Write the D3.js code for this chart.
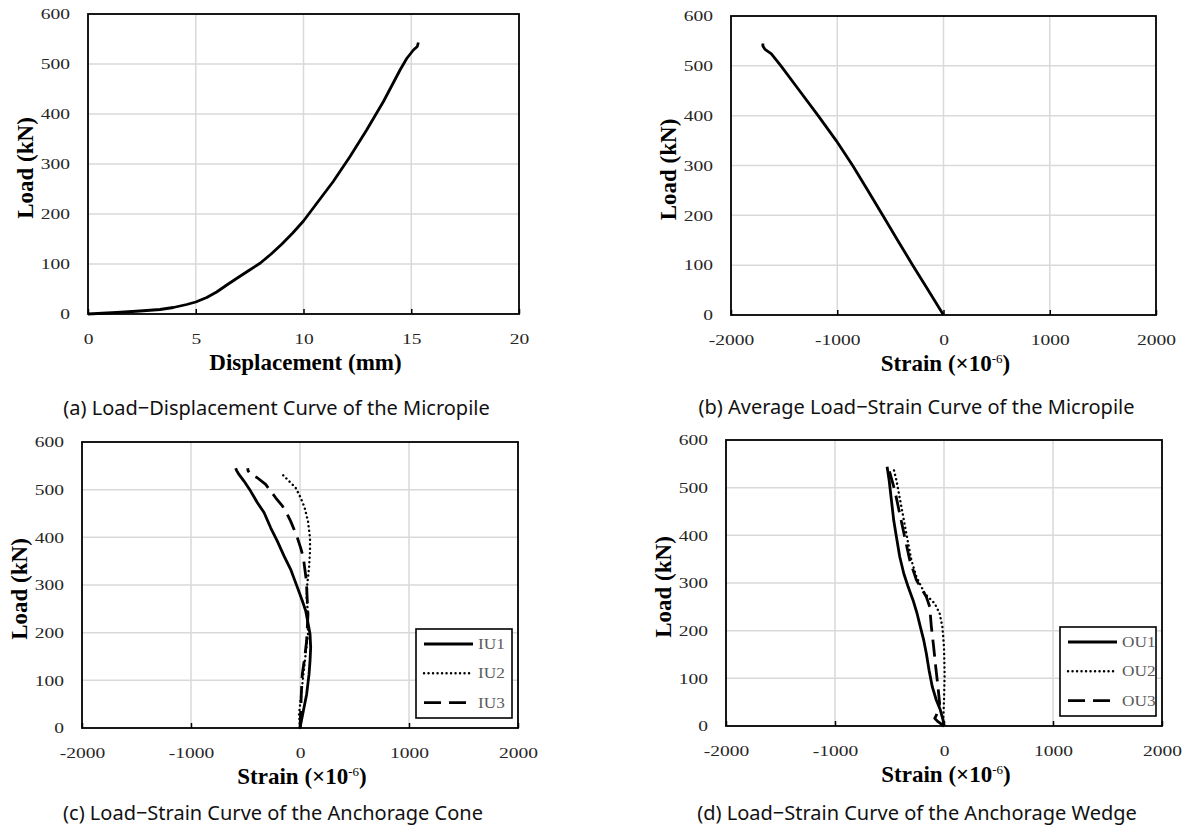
<!DOCTYPE html>
<html>
<head>
<meta charset="utf-8">
<script src="https://cdn.jsdelivr.net/npm/d3@7"></script>
<style>
  body { margin: 0; background: #fff; }
  svg { display: block; }
</style>
</head>
<body>
<svg id="chart" width="1189" height="828"></svg>
<script>
// tick values
const dispTicks = [0, 5, 10, 15, 20];
const strainTicks = [-2000, -1000, 0, 1000, 2000];
const loadTicks = [0, 100, 200, 300, 400, 500, 600];

// (a) load-displacement of the micropile: [displacement mm, load kN]
const micropileDisp = [
  [0, 0], [1.33, 3], [2.41, 6], [3.34, 9], [3.96, 13], [4.58, 19], [5.0, 24],
  [5.51, 33], [5.97, 44], [6.44, 58], [7.0, 74], [7.5, 88], [8.0, 102],
  [8.5, 120], [9.0, 140], [9.5, 162], [10.0, 186], [10.61, 221], [11.38, 265],
  [12.16, 315], [12.93, 368], [13.71, 425], [14.48, 488], [14.79, 511],
  [15.1, 528], [15.28, 535], [15.33, 543]
];

// (b) average load-strain of the micropile: [strain, load]
const micropileStrain = [
  [0, 0], [-145, 50], [-290, 100], [-432, 150], [-572, 200], [-712, 250],
  [-855, 300], [-1010, 350], [-1180, 400], [-1355, 450], [-1530, 500],
  [-1620, 524], [-1680, 533], [-1700, 540], [-1700, 545]
];

// (c) anchorage cone gauges
const coneLabels = ["IU1", "IU2", "IU3"];
const coneIU1 = [
  [0, 0], [31, 36], [61, 71], [83, 113], [92, 141], [98, 169], [92, 197], [73, 221],
  [52, 246], [21, 267], [-24, 295], [-86, 333], [-147, 361], [-208, 392], [-269, 420],
  [-330, 452], [-392, 473], [-453, 497], [-514, 518], [-560, 532], [-581, 540], [-590, 545]
];
const coneIU2 = [
  [0, 0], [-9, 29], [12, 71], [31, 113], [52, 155], [73, 197], [73, 239], [61, 274],
  [67, 302], [83, 336], [92, 371], [92, 399], [73, 434], [43, 462], [6, 483],
  [-40, 504], [-101, 518], [-162, 532]
];
const coneIU3 = [
  [0, 0], [12, 71], [21, 113], [43, 148], [61, 183], [67, 211], [73, 239], [67, 267],
  [61, 295], [55, 315], [43, 336], [31, 357], [6, 378], [-24, 399], [-55, 417],
  [-86, 434], [-116, 448], [-162, 466], [-223, 483], [-269, 497], [-315, 511],
  [-392, 525], [-453, 532], [-477, 540], [-480, 545]
];

// (d) anchorage wedge gauges
const wedgeLabels = ["OU1", "OU2", "OU3"];
const wedgeOU1 = [
  [0, 0], [-9, 13], [-34, 34], [-70, 54], [-107, 82], [-137, 117], [-162, 152],
  [-186, 180], [-217, 208], [-247, 236], [-284, 264], [-329, 292], [-369, 320],
  [-406, 355], [-436, 396], [-461, 431], [-482, 473], [-503, 515], [-522, 544]
];
const wedgeOU2 = [
  [-9, 0], [0, 54], [6, 110], [0, 166], [-15, 208], [-40, 236], [-85, 257],
  [-177, 278], [-253, 313], [-299, 348], [-345, 403], [-390, 459], [-436, 515], [-467, 544]
];
const wedgeOU3 = [
  [0, 0], [-55, 9], [-85, 16], [-70, 23], [-40, 47], [-55, 82], [-76, 124],
  [-95, 166], [-116, 208], [-131, 250], [-162, 271], [-253, 306], [-314, 348],
  [-360, 396], [-406, 445], [-451, 494], [-503, 536]
];

const lineStyles = [
  { width: 2.8, dash: null, cap: "butt" },
  { width: 2.4, dash: "0.1,4.4", cap: "round" },
  { width: 2.8, dash: "17,8", cap: "butt" }
];

const svg = d3.select("#chart");
const serif = "'Liberation Serif', 'Times New Roman', serif";
const tickScaleX = 1.3;

function strainTitle(g) {
  g.append("tspan").text("Strain (\u00d710");
  g.append("tspan").attr("dy", -8).attr("font-size", 13).attr("font-weight", "normal").text("-6");
  g.append("tspan").attr("dy", 8).text(")");
}

function drawPanel(p) {
  const x = d3.scaleLinear().domain(p.xDomain).range([p.left, p.right]);
  const y = d3.scaleLinear().domain([0, 600]).range([p.bottom, p.top]);
  const g = svg.append("g");

  // gridlines
  g.append("g").selectAll("line").data(p.xTicks.slice(1, -1)).join("line")
    .attr("x1", d => x(d)).attr("x2", d => x(d))
    .attr("y1", p.top).attr("y2", p.bottom)
    .attr("stroke", "#d9d9d9").attr("stroke-width", 1.5);
  g.append("g").selectAll("line").data(loadTicks.slice(1, -1)).join("line")
    .attr("y1", d => y(d)).attr("y2", d => y(d))
    .attr("x1", p.left).attr("x2", p.right)
    .attr("stroke", "#d9d9d9").attr("stroke-width", 1.5);

  // axes (labels only, border drawn below)
  const xa = g.append("g").attr("transform", `translate(0,${p.bottom})`)
    .call(d3.axisBottom(x).tickValues(p.xTicks).tickSize(-5).tickPadding(19).tickFormat(d => String(d)));
  const ya = g.append("g").attr("transform", `translate(${p.left},0)`)
    .call(d3.axisLeft(y).tickValues(loadTicks).tickSize(0).tickPadding(18).tickFormat(d => String(d)));
  [xa, ya].forEach(a => {
    a.attr("font-family", serif).attr("font-size", 15);
    a.select(".domain").remove();
    a.selectAll("line").attr("stroke", "#000").attr("stroke-width", 1.5);
    a.selectAll("text").attr("fill", "#262626").attr("transform", `scale(${tickScaleX},1)`);
  });
  ya.selectAll("text").attr("x", -18 / tickScaleX);

  // curves
  const line = d3.line().x(d => x(d[0])).y(d => y(d[1]));
  p.series.forEach((s, i) => {
    const st = lineStyles[i];
    g.append("path").datum(s).attr("d", line)
      .attr("fill", "none").attr("stroke", "#000")
      .attr("stroke-width", st.width)
      .attr("stroke-dasharray", st.dash)
      .attr("stroke-linecap", st.cap)
      .attr("stroke-linejoin", "round");
  });

  // plot border
  g.append("rect").attr("x", p.left).attr("y", p.top)
    .attr("width", p.right - p.left).attr("height", p.bottom - p.top)
    .attr("fill", "none").attr("stroke", "#000").attr("stroke-width", 1.8);

  // legend
  if (p.labels) {
    const lg = g.append("g").attr("transform", `translate(${p.right - 102},${p.bottom - 99})`);
    lg.append("rect").attr("width", 96).attr("height", 89)
      .attr("fill", "#fff").attr("stroke", "#000").attr("stroke-width", 1.6);
    p.labels.forEach((lab, i) => {
      const st = lineStyles[i];
      const yy = 15 + i * 29.3;
      lg.append("line").attr("x1", 8).attr("x2", 57).attr("y1", yy).attr("y2", yy)
        .attr("stroke", "#000").attr("stroke-width", st.width)
        .attr("stroke-dasharray", st.dash).attr("stroke-linecap", st.cap);
      lg.append("text").attr("x", 62 / 1.15).attr("y", yy + 5)
        .attr("transform", "scale(1.15,1)")
        .attr("font-family", serif).attr("font-size", 15).attr("fill", "#595959")
        .text(lab);
    });
  }

  // axis titles
  g.append("text")
    .attr("transform", `translate(${p.left - 63},${(p.top + p.bottom) / 2 + 4}) rotate(-90)`)
    .attr("text-anchor", "middle").attr("dy", "0.35em")
    .attr("font-family", serif).attr("font-weight", "bold").attr("font-size", 23)
    .text("Load (kN)");
  const xt = g.append("text")
    .attr("x", (p.left + p.right) / 2 + 2).attr("y", p.bottom + 56)
    .attr("text-anchor", "middle")
    .attr("font-family", serif).attr("font-weight", "bold").attr("font-size", 23);
  if (p.xTitle === "strain") strainTitle(xt); else xt.text(p.xTitle);

  // caption
  g.append("text")
    .attr("x", (p.left + p.right) / 2 - 27).attr("y", p.captionY)
    .attr("text-anchor", "middle")
    .attr("font-family", "'Noto Sans', sans-serif").attr("font-size", 20).attr("fill", "#111")
    .text(p.caption);
}

drawPanel({
  left: 88, right: 519, top: 14, bottom: 314,
  xDomain: [0, 20], xTicks: dispTicks, xTitle: "Displacement (mm)",
  series: [micropileDisp], captionY: 415,
  caption: "(a) Load\u2212Displacement Curve of the Micropile"
});
drawPanel({
  left: 731, right: 1156, top: 16, bottom: 315,
  xDomain: [-2000, 2000], xTicks: strainTicks, xTitle: "strain",
  series: [micropileStrain], captionY: 414,
  caption: "(b) Average Load\u2212Strain Curve of the Micropile"
});
drawPanel({
  left: 82, right: 518, top: 442, bottom: 728,
  xDomain: [-2000, 2000], xTicks: strainTicks, xTitle: "strain",
  series: [coneIU1, coneIU2, coneIU3], labels: coneLabels, captionY: 820,
  caption: "(c) Load\u2212Strain Curve of the Anchorage Cone"
});
drawPanel({
  left: 726, right: 1162, top: 440, bottom: 726,
  xDomain: [-2000, 2000], xTicks: strainTicks, xTitle: "strain",
  series: [wedgeOU1, wedgeOU2, wedgeOU3], labels: wedgeLabels, captionY: 820,
  caption: "(d) Load\u2212Strain Curve of the Anchorage Wedge"
});
</script>
</body>
</html>
